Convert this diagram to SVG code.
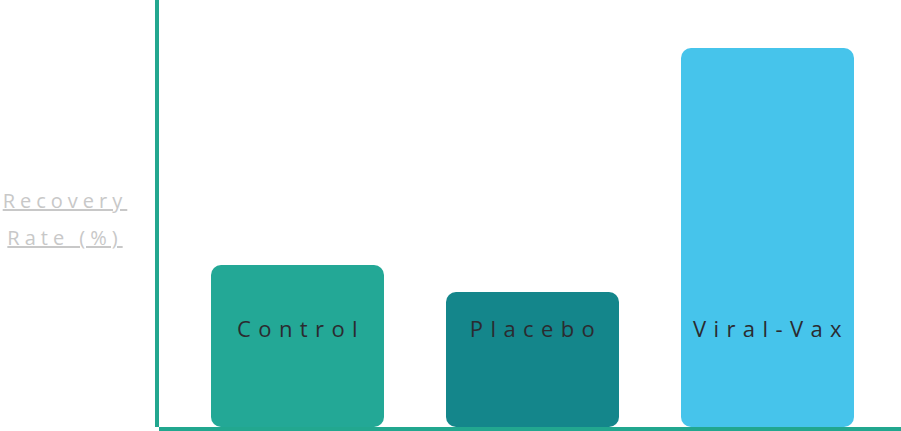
<svg xmlns="http://www.w3.org/2000/svg" width="901" height="431" viewBox="0 0 901 431">
<style>
.bar-label{font-family:"Open Sans","Liberation Sans",sans-serif;font-size:22px;fill:#2b2b30;letter-spacing:7.4px;text-anchor:middle}
.axis-label{font-family:"Open Sans","Liberation Sans",sans-serif;font-size:20px;fill:#c8c8c8;letter-spacing:5px;text-anchor:middle;text-decoration:underline}
.axis{stroke:#22a78f;stroke-width:4;fill:none}
</style>
<rect width="901" height="431" fill="#ffffff"/>
<g id="axes">
<line class="axis" x1="157" y1="0" x2="157" y2="427"/>
<line class="axis" x1="159" y1="429" x2="901" y2="429"/>
</g>
<g id="y-label">
<text class="axis-label" x="65" y="208">Recovery</text>
<text class="axis-label" x="65" y="245">Rate (%)</text>
</g>
<g id="control">
<rect x="211" y="265" width="173" height="162" rx="10" fill="#23a896"/>
<text class="bar-label" x="301" y="337">Control</text>
</g>
<g id="placebo">
<rect x="446" y="292" width="173" height="135" rx="10" fill="#14868b"/>
<text class="bar-label" x="536" y="337">Placebo</text>
</g>
<g id="viral-vax">
<rect x="681" y="48" width="173" height="379" rx="10" fill="#46c4eb"/>
<text class="bar-label" x="771" y="337">Viral-Vax</text>
</g>
</svg>
